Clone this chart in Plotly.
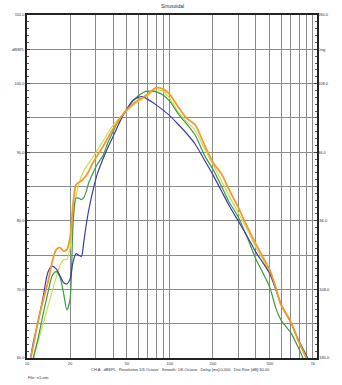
import plotly.graph_objects as go

# ---------------- data ----------------
freq = [10.5, 11, 12, 13, 14, 15, 16, 17, 18, 19, 20, 21, 22, 23, 24, 25, 26, 27, 29, 31, 34, 37, 40, 43, 46,
        50, 55, 60, 65, 70, 75, 80, 90, 100, 115, 130, 150, 175, 200, 230, 260, 300, 350, 400, 450, 500,
        550, 600, 700, 800, 900, 950]

orange = [59.5, 61.5, 65.5, 68.5, 71.0, 74.0, 75.8, 76.1, 75.6, 75.8, 77.5, 82.5, 85.2, 85.6, 85.8, 86.2, 86.6, 87.2,
          88.5, 89.5, 90.8, 92.2, 93.4, 94.4, 95.3,
          96.2, 97.0, 97.6, 98.0, 98.5, 99.0, 99.4, 99.2, 98.4, 96.5, 95.0, 94.0, 91.0, 88.5, 86.8, 84.5, 82.0,
          79.0, 76.6, 74.6, 72.8, 70.3, 67.7, 65.3, 62.3, 60.0, 58.8]

yellow = [57.5, 59.5, 62.5, 65.0, 67.5, 69.7, 71.8, 73.5, 74.3, 74.4, 76.0, 80.5, 83.5, 85.3, 86.5, 87.3, 87.9, 88.4,
          89.3, 90.3, 91.6, 92.9, 93.9, 94.7, 95.3,
          96.0, 96.8, 97.4, 97.8, 98.3, 98.8, 99.1, 98.9, 97.8, 95.8, 94.5, 93.2, 90.5, 88.2, 85.8, 83.6, 81.2,
          78.6, 76.1, 74.2, 72.4, 70.0, 67.7, 65.2, 62.2, 59.9, 58.7]

green = [57.5, 59.8, 63.0, 66.5, 69.5, 72.0, 72.6, 71.8, 69.5, 67.0, 68.5, 79.5, 83.3, 83.3, 83.1, 83.4, 84.3, 85.5,
         87.0, 88.2, 89.5, 91.5, 93.0, 94.3, 95.2,
         96.3, 97.5, 98.2, 98.7, 98.9, 98.9, 98.8, 98.3, 97.4, 95.5, 94.2, 92.5, 89.5, 87.5, 85.0, 82.7, 80.6,
         77.4, 74.4, 72.3, 70.3, 67.3, 65.5, 63.7, 61.3, 58.8, 57.5]

blue = [59.5, 62.0, 65.5, 69.0, 72.5, 73.4, 73.0, 72.0, 71.0, 70.8, 71.5, 74.0, 75.2, 75.0, 74.8, 77.0, 79.5, 81.5,
        84.5, 86.8, 89.0, 90.8, 92.3, 93.7, 95.0,
        96.3, 97.5, 98.0, 98.1, 97.7, 97.3, 96.9, 96.1, 95.3, 94.0, 92.8, 91.2, 88.8, 86.7, 84.3, 82.2, 80.0,
        77.6, 75.4, 73.8, 72.3, 70.0, 67.8, 65.2, 62.5, 60.4, 59.3]

x_grid = [20, 30, 40, 50, 60, 70, 80, 90, 100, 200, 300, 400, 500, 600, 700, 800, 900, 1000]
x_labels = {10: "10", 20: "20", 50: "50", 100: "100", 200: "200", 500: "500", 1000: "1k"}

y_ticks = [60, 65, 70, 75, 80, 85, 90, 95, 100, 105, 110]
y_labels = {60: "60.0", 70: "70.0", 80: "80.0", 90: "90.0", 100: "100.0", 105: "dBSPL", 110: "110.0"}

phase_ticks = [-180, -108, -36, 36, 108, 144, 180]
phase_labels = ["-180.0", "-108.0", "-36.0", "36.0", "108.0", "Deg", "180.0"]

series = [
    ("yellow", yellow, "#c9dc55", 1.2),
    ("green", green, "#3a9c3f", 1.2),
    ("blue", blue, "#3d3ca8", 1.2),
    ("orange", orange, "#f29a2e", 1.8),
]

FONT = "Liberation Sans, Arial, sans-serif"

fig = go.Figure()
for name, vals, col, w in series:
    fig.add_trace(go.Scatter(x=freq, y=vals, mode="lines", name=name,
                             line=dict(color=col, width=w, shape="spline", smoothing=0.7),
                             showlegend=False, hoverinfo="skip"))

# invisible trace so the right axis is drawn
fig.add_trace(go.Scatter(x=[10, 10], y=[-180, 180], yaxis="y2", mode="lines",
                         line=dict(width=0), opacity=0, showlegend=False, hoverinfo="skip"))

xtv = [10] + x_grid
fig.update_layout(
    width=342, height=385,
    margin=dict(l=21, r=18, t=13, b=27),
    paper_bgcolor="white", plot_bgcolor="white",
    font=dict(family=FONT, size=4, color="#333333"),
    xaxis=dict(type="log", range=[1, 3.029],
               tickvals=xtv, ticktext=[x_labels.get(v, "") for v in xtv],
               showgrid=True, gridcolor="#8a8a8a", gridwidth=1,
               showline=True, linecolor="#222222", linewidth=1.5, mirror=True,
               ticks="", tickfont=dict(size=4, color="#333333"), zeroline=False),
    yaxis=dict(range=[60, 110],
               tickvals=y_ticks, ticktext=[y_labels.get(v, "") for v in y_ticks],
               showgrid=True, gridcolor="#8a8a8a", gridwidth=1,
               showline=True, linecolor="#222222", linewidth=1.5, mirror=True,
               ticks="inside", ticklen=3, tickcolor="#444444",
               minor=dict(ticks="inside", dtick=1, tick0=60, ticklen=2, tickcolor="#555555", showgrid=False),
               tickfont=dict(size=4, color="#333333"), zeroline=False),
    yaxis2=dict(range=[-180, 180], overlaying="y", side="right",
                tickvals=phase_ticks, ticktext=phase_labels,
                showgrid=False, showline=False,
                ticks="inside", ticklen=3, tickcolor="#444444",
                minor=dict(ticks="inside", dtick=7.2, tick0=-180, ticklen=2, tickcolor="#555555", showgrid=False),
                tickfont=dict(size=4, color="#333333"), zeroline=False),
    annotations=[
        dict(text="Sinusoidal", x=0.5, y=1, xref="paper", yref="paper", xanchor="center", yanchor="bottom",
             yshift=4, showarrow=False, font=dict(size=5, color="#333333")),
        dict(text="CH A   dBSPL   Resolution 1/6 Octave   Smooth: 1/6 Octave   Delay [ms]:0.000   Dist Rise [dB]:30.00",
             x=86, y=370, xref="paper", yref="paper", showarrow=False),
        dict(text="File: n1.sim", x=20, y=378, xref="paper", yref="paper", showarrow=False),
    ],
)

# convert pixel-positioned annotations to paper coords
pw, ph = 342 - 21 - 18, 385 - 13 - 27
anns = list(fig.layout.annotations)
for a in anns[1:]:
    px, py = a.x, a.y
    a.x = (px - 21) / pw
    a.y = (385 - 27 - py) / ph
    a.xanchor = "left"
    a.yanchor = "middle"
    a.font = dict(size=4, color="#333333")
fig.layout.annotations = anns

fig.write_html("out.html")
